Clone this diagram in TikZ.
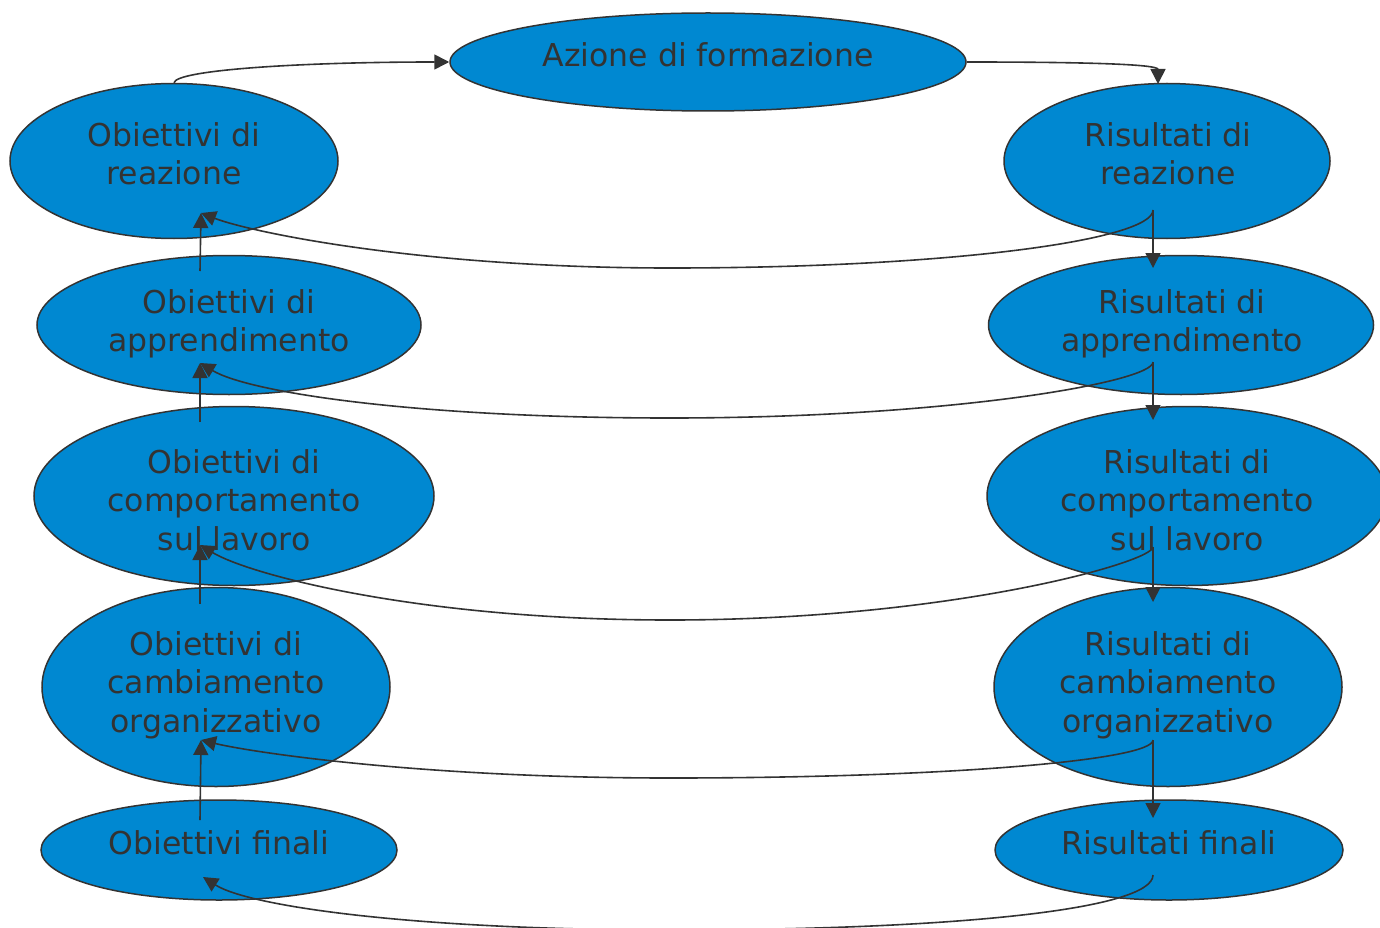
\documentclass[tikz,border=0pt]{standalone}
\usepackage{fontspec}
\setmainfont{DejaVu Sans}
\usetikzlibrary{shapes.geometric,arrows.meta}
\definecolor{fillb}{HTML}{0088D1}
\definecolor{ink}{HTML}{333333}
\begin{document}
\begin{tikzpicture}[x=1pt,y=-1pt,
  oval/.style={ellipse,draw=ink,line width=1.5pt,fill=fillb,inner sep=0pt},
  lbl/.style={text=ink,align=center,font=\fontsize{31.5}{38.5}\selectfont,inner sep=0pt},
  conn/.style={draw=ink,line width=1.6pt,-{Triangle[length=15pt,width=15pt]}}]
\useasboundingbox (0,0) rectangle (1380,928);
\clip (0,0) rectangle (1380,928);
\fill[white] (0,0) rectangle (1380,928);
% ellipses
\node[oval,minimum width=516,minimum height=98] (az) at (708,62) {};
\node[oval,minimum width=328,minimum height=155] (o1) at (174,161) {};
\node[oval,minimum width=326,minimum height=155] (r1) at (1167,161) {};
\node[oval,minimum width=384,minimum height=139] (o2) at (229,325) {};
\node[oval,minimum width=385,minimum height=139] (r2) at (1181,325) {};
\node[oval,minimum width=400,minimum height=179] (o3) at (234,496) {};
\node[oval,minimum width=400,minimum height=179] (r3) at (1187,496) {};
\node[oval,minimum width=348,minimum height=199] (o4) at (216,687) {};
\node[oval,minimum width=348,minimum height=199] (r4) at (1168,687) {};
\node[oval,minimum width=356,minimum height=100] (o5) at (219,850) {};
\node[oval,minimum width=348,minimum height=100] (r5) at (1169,850) {};
% texts
\node[lbl] (taz) at (708,55) {Azione di formazione};
\node[lbl] (to1) at (174,154) {Obiettivi di\\reazione};
\node[lbl] (tr1) at (1168,154) {Risultati di\\reazione};
\node[lbl] (to2) at (229,324) {Obiettivi di\\apprendimento};
\node[lbl] (tr2) at (1182,324) {Risultati di\\apprendimento};
\node[lbl] (to3) at (234,500) {Obiettivi di\\comportamento\\sul lavoro};
\node[lbl] (tr3) at (1187,500) {Risultati di\\comportamento\\sul lavoro};
\node[lbl] (to4) at (216,685) {Obiettivi di\\cambiamento\\organizzativo};
\node[lbl] (tr4) at (1168,685) {Risultati di\\cambiamento\\organizzativo};
\node[lbl] (to5) at (219,843) {Obiettivi finali};
\node[lbl] (tr5) at (1169,843) {Risultati finali};
% connector points
\coordinate (r1top) at (1158,84);
\coordinate (rs1) at (1153,210); \coordinate (ot1) at (201,213); \coordinate (b1) at (670,268);
\coordinate (rs2) at (1153,362); \coordinate (ot2) at (200,363); \coordinate (b2) at (670,418);
\coordinate (rs3) at (1153,547); \coordinate (ot3) at (200,545); \coordinate (b3) at (670,620);
\coordinate (rs4) at (1153,740); \coordinate (ot4) at (201,740); \coordinate (b4) at (670,778);
\coordinate (rs5) at (1153,875); \coordinate (ot5) at (203,877); \coordinate (b5) at (670,930);
\coordinate (rt2) at (1153,268); \coordinate (os2) at (200,271);
\coordinate (rt3) at (1153,420); \coordinate (os3) at (200,422);
\coordinate (rt4) at (1153,602); \coordinate (os4) at (200,604);
\coordinate (rt5) at (1153,818); \coordinate (os5) at (200,820);
% connectors
\draw[conn] (o1.north) .. controls (176,70) and (300,62) .. (az.west);
\draw[conn] (az.east) .. controls (1080,62) and (1158,64) .. (r1top);
\draw[conn] (rs1) -- (rt2);
\draw[conn] (os2) -- (ot1);
\draw[conn] (rs1) .. controls (1153,240) and (950,268) .. (b1) .. controls (420,268) and (250,232) .. (ot1);
\draw[conn] (rs2) -- (rt3);
\draw[conn] (os3) -- (ot2);
\draw[conn] (rs2) .. controls (1153,382) and (950,418) .. (b2) .. controls (420,418) and (250,393) .. (ot2);
\draw[conn] (rs3) -- (rt4);
\draw[conn] (os4) -- (ot3);
\draw[conn] (rs3) .. controls (1153,562) and (950,620) .. (b3) .. controls (420,620) and (250,575) .. (ot3);
\draw[conn] (rs4) -- (rt5);
\draw[conn] (os5) -- (ot4);
\draw[conn] (rs4) .. controls (1153,760) and (950,778) .. (b4) .. controls (420,778) and (250,752) .. (ot4);
\draw[conn] (rs5) .. controls (1153,910) and (950,930) .. (b5) .. controls (420,930) and (250,907) .. (ot5);
\end{tikzpicture}
\end{document}
